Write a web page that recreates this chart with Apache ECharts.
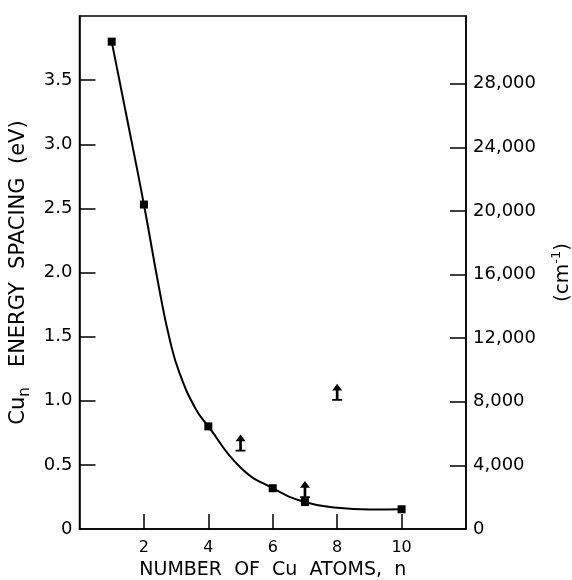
<!DOCTYPE html>
<html>
<head>
<meta charset="utf-8">
<script src="https://cdn.jsdelivr.net/npm/echarts@6/dist/echarts.min.js"></script>
<style>
  html, body { margin: 0; padding: 0; background: #fff; }
  #chart { width: 572px; height: 580px; }
</style>
</head>
<body>
<div id="chart"></div>
<script>
// measured Cu_n energy spacing (eV)
const atomCounts = [1, 2, 4, 6, 7, 10]
const spacingEv = [3.80, 2.53, 0.80, 0.318, 0.21, 0.154]
// lower limits (arrows)
const limitCounts = [5, 7, 8]
const limitEv = [0.612, 0.25, 1.008]
// fitted curve
const curveCounts = [1, 1.5, 2, 2.5, 2.8, 3.1, 3.6, 4, 5, 6, 7, 8, 9, 10]
const curveEv = [3.80, 3.17, 2.53, 1.84, 1.48, 1.22, 0.94, 0.80, 0.48, 0.318, 0.21, 0.165, 0.152, 0.154]
// axis ticks
const xTicks = [2, 4, 6, 8, 10]
const evTicks = [0, 0.5, 1.0, 1.5, 2.0, 2.5, 3.0, 3.5]
const cmTicks = [0, 4000, 8000, 12000, 16000, 20000, 24000, 28000]
const EV_MAX = 4
const CM_PER_EV = 8065.5

const font = 'DejaVu Sans'
const arrowPath = 'path://M5,0 L9.5,8 L6.2,8 L6.2,18 L9.5,18 L9.5,20 L0.5,20 L0.5,18 L3.8,18 L3.8,8 L0.5,8 Z'

const chart = echarts.init(document.getElementById('chart'))

const option = {
  animation: false,
  textStyle: { fontFamily: font, color: '#000' },
  grid: {
    left: 79.5,
    right: 106,
    top: 16,
    bottom: 51,
    show: true,
    borderColor: '#000',
    borderWidth: 1.5,
    outerBoundsMode: 'none'
  },
  xAxis: {
    type: 'value',
    min: 0,
    max: 12,
    splitLine: { show: false },
    axisLine: { lineStyle: { color: '#000', width: 1.5 } },
    axisTick: { inside: true, length: 15, lineStyle: { color: '#000', width: 1.5 }, customValues: xTicks },
    axisLabel: { margin: 11, fontSize: 16, color: '#000', fontFamily: font, customValues: xTicks },
    name: 'NUMBER  OF  Cu  ATOMS,  n',
    nameLocation: 'middle',
    nameGap: 30,
    nameTextStyle: { fontSize: 19, color: '#000', fontFamily: font }
  },
  yAxis: [
    {
      type: 'value',
      position: 'left',
      min: 0,
      max: EV_MAX,
      splitLine: { show: false },
      axisLine: { show: true, lineStyle: { color: '#000', width: 1.5 } },
      axisTick: { show: true, inside: true, length: 16, lineStyle: { color: '#000', width: 1.5 }, customValues: evTicks.slice(1) },
      axisLabel: {
        margin: 7,
        fontSize: 18,
        color: '#000',
        fontFamily: font,
        customValues: evTicks,
        formatter: (v) => (v === 0 ? '0' : v.toFixed(1))
      },
      name: '{a|Cu}{s|n}{a|   ENERGY  SPACING  (eV)}',
      nameLocation: 'middle',
      nameRotate: 90,
      nameGap: 45,
      nameTextStyle: {
        rich: {
          a: { fontSize: 21, fontFamily: font, color: '#000', lineHeight: 28, verticalAlign: 'middle' },
          s: { fontSize: 15, fontFamily: font, color: '#000', lineHeight: 28, verticalAlign: 'bottom' }
        }
      }
    },
    {
      type: 'value',
      position: 'right',
      min: 0,
      max: EV_MAX * CM_PER_EV,
      splitLine: { show: false },
      axisLine: { show: true, lineStyle: { color: '#000', width: 1.5 } },
      axisTick: { show: true, inside: true, length: 16, lineStyle: { color: '#000', width: 1.5 }, customValues: cmTicks.slice(1) },
      axisLabel: {
        margin: 7,
        fontSize: 18,
        color: '#000',
        fontFamily: font,
        customValues: cmTicks,
        formatter: (v) => (v === 0 ? '0' : v.toLocaleString('en-US'))
      },
      name: '{a|(cm}{sup|-1}{a|)}',
      nameLocation: 'middle',
      nameRotate: 90,
      nameGap: 84,
      nameTextStyle: {
        rich: {
          a: { fontSize: 20, fontFamily: font, color: '#000', lineHeight: 26, verticalAlign: 'middle' },
          sup: { fontSize: 13, fontFamily: font, color: '#000', lineHeight: 26, verticalAlign: 'top' }
        }
      }
    }
  ],
  series: [
    {
      name: 'fit',
      type: 'line',
      smooth: 0.5,
      showSymbol: false,
      lineStyle: { color: '#000', width: 2 },
      data: curveCounts.map((n, i) => [n, curveEv[i]]),
      z: 2
    },
    {
      name: 'lower limit',
      type: 'scatter',
      symbol: arrowPath,
      symbolSize: [10, 17],
      symbolOffset: [0, -7.5],
      itemStyle: { color: '#000', opacity: 1 },
      data: limitCounts.map((n, i) => [n, limitEv[i]]),
      z: 3
    },
    {
      name: 'Cu_n',
      type: 'scatter',
      symbol: 'rect',
      symbolSize: 8,
      itemStyle: { color: '#000', opacity: 1 },
      data: atomCounts.map((n, i) => [n, spacingEv[i]]),
      z: 4
    }
  ]
}

chart.setOption(option)
</script>
</body>
</html>
